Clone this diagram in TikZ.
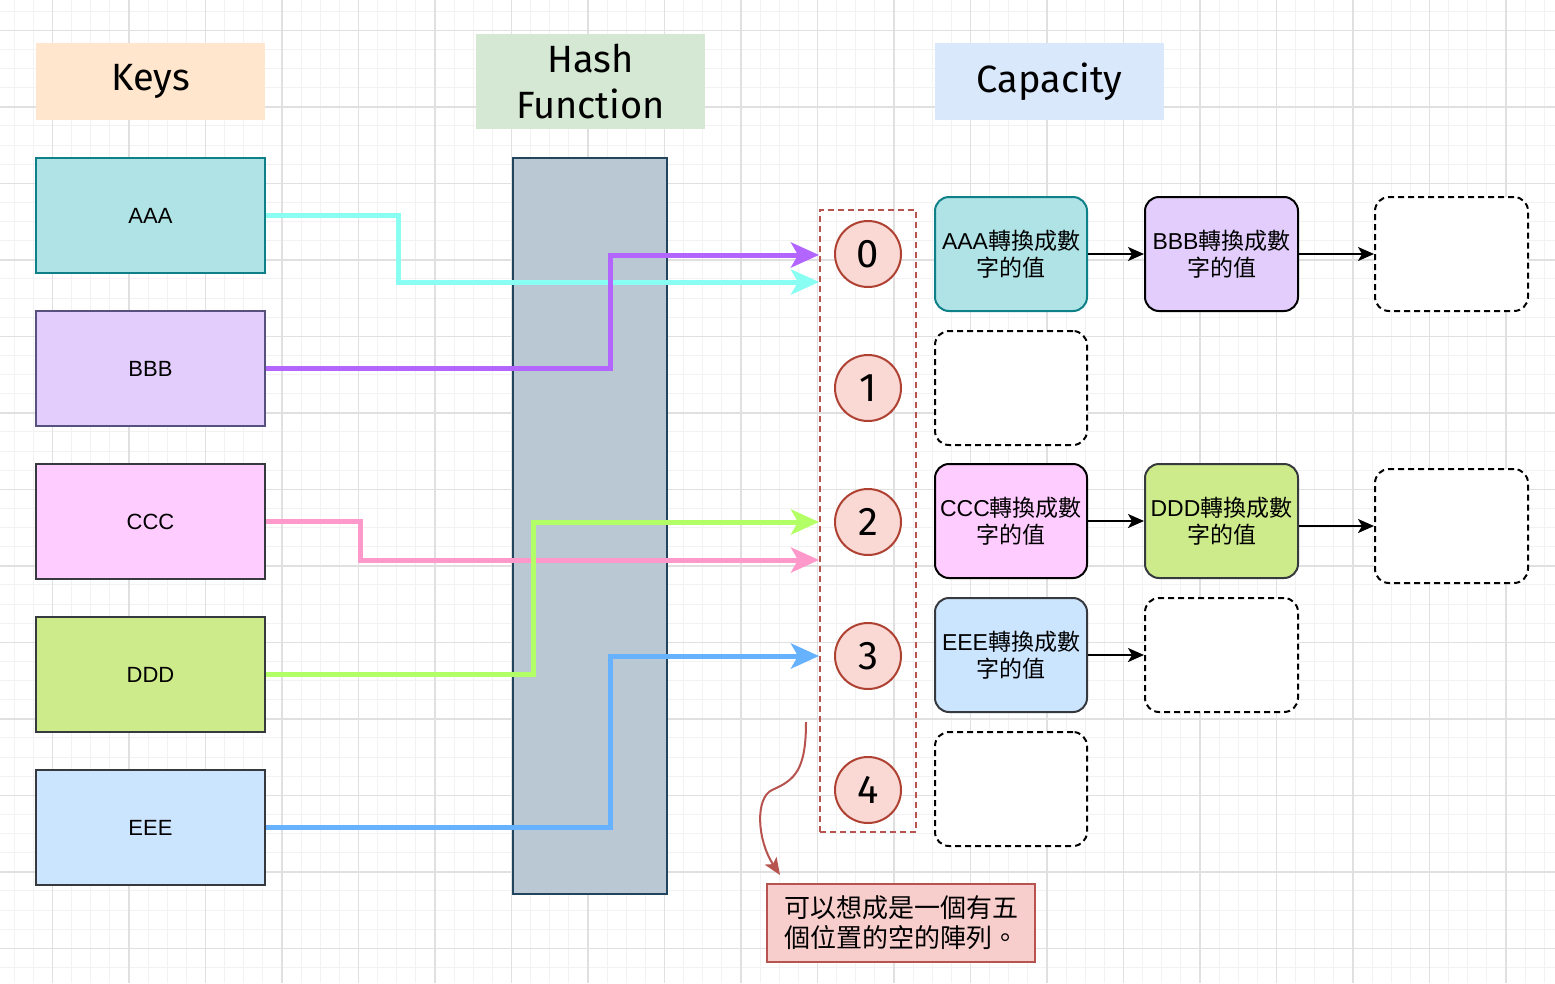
\documentclass[tikz,border=0pt]{standalone}
\usepackage{fontspec}
\setmainfont{Liberation Sans}
\newfontfamily\cjk{Noto Sans CJK TC}
\newfontfamily\hand{Fira Sans}
\usetikzlibrary{arrows.meta}
\definecolor{gridminor}{HTML}{F2F2F2}
\definecolor{gridmajor}{HTML}{E0E0E0}
\definecolor{keysfill}{HTML}{FFE6CC}
\definecolor{hashfill}{HTML}{D5E8D4}
\definecolor{capfill}{HTML}{DAE8FC}
\definecolor{afill}{HTML}{B0E3E6}
\definecolor{adraw}{HTML}{0E8088}
\definecolor{bfill}{HTML}{E3CDFC}
\definecolor{bdraw}{HTML}{56517E}
\definecolor{cfill}{HTML}{FFCCFF}
\definecolor{dfill}{HTML}{CDEB8B}
\definecolor{efill}{HTML}{CCE5FF}
\definecolor{darkdraw}{HTML}{36393D}
\definecolor{colfill}{HTML}{BAC8D3}
\definecolor{coldraw}{HTML}{23445D}
\definecolor{reddraw}{HTML}{B85450}
\definecolor{notefill}{HTML}{F8CECC}
\definecolor{slotfill}{HTML}{FAD9D5}
\definecolor{slotdraw}{HTML}{AE4132}
\definecolor{wireA}{HTML}{88FFF2}
\definecolor{wireB}{HTML}{B266FF}
\definecolor{wireC}{HTML}{FF99CC}
\definecolor{wireD}{HTML}{B3FF66}
\definecolor{wireE}{HTML}{66B2FF}
\newcommand\valtext[1]{#1{\cjk 轉換成數}\\{\cjk 字的值}}
\begin{document}
\begin{tikzpicture}[x=1pt,y=-1pt,
  title/.style={minimum width=229pt,minimum height=77pt,inner sep=0pt,align=center,font=\hand\fontsize{38}{46}\selectfont},
  keybox/.style={draw,line width=2pt,minimum width=229pt,minimum height=115pt,inner sep=0pt,font=\fontsize{22}{26}\selectfont},
  slot/.style={circle,draw=slotdraw,fill=slotfill,line width=2pt,minimum size=66pt,inner sep=0pt,font=\hand\fontsize{40}{40}\selectfont},
  valbox/.style={draw,rounded corners=14pt,line width=2pt,minimum width=152pt,minimum height=114pt,inner sep=0pt,align=center,font=\fontsize{23}{27}\selectfont},
  emptybox/.style={valbox,dash pattern=on 6pt off 4pt,fill=white},
  wire/.style={line width=5pt,-{Stealth[length=28pt,width=25pt,inset=7pt]}},
  link/.style={line width=2pt,-{Stealth[length=16pt,width=14pt,inset=4pt]}}]
\useasboundingbox (0,0) rectangle (1555,983);
\fill[white] (0,0) rectangle (1555,983);
\begin{scope}
\clip (0,0) rectangle (1555,983);
\foreach \k in {-3,...,80} \draw[gridminor,line width=1pt] ({52.5+19.125*\k},0) -- ({52.5+19.125*\k},983);
\foreach \k in {-2,...,51} \draw[gridminor,line width=1pt] (0,{30.3+19.125*\k}) -- (1555,{30.3+19.125*\k});
\foreach \k in {-1,...,20} \draw[gridmajor,line width=1.5pt] ({52.5+76.5*\k},0) -- ({52.5+76.5*\k},983);
\foreach \k in {-1,...,13} \draw[gridmajor,line width=1.5pt] (0,{30.3+76.5*\k}) -- (1555,{30.3+76.5*\k});
\end{scope}

\node[title,fill=keysfill] (keys) at (150.5,81.5) {Keys};
\node[title,fill=hashfill,minimum height=95pt] (hashtitle) at (590.5,81.5) {Hash\\Function};
\node[title,fill=capfill] (capacity) at (1049.5,81.5) {Capacity};

\node[keybox,fill=afill,draw=adraw] (keyA) at (150.5,215.5) {AAA};
\node[keybox,fill=bfill,draw=bdraw] (keyB) at (150.5,368.5) {BBB};
\node[keybox,fill=cfill,draw=darkdraw] (keyC) at (150.5,521.5) {CCC};
\node[keybox,fill=dfill,draw=darkdraw] (keyD) at (150.5,674.5) {DDD};
\node[keybox,fill=efill,draw=darkdraw] (keyE) at (150.5,827.5) {EEE};

\node[draw=coldraw,fill=colfill,line width=2pt,minimum width=154pt,minimum height=736pt,inner sep=0pt] (hash) at (590,526) {};

\node[draw=reddraw,line width=2pt,dash pattern=on 6pt off 4pt,minimum width=96pt,minimum height=622pt,inner sep=0pt] (array) at (868,521) {};
\foreach \i in {0,...,4} \node[slot] (slot\i) at (868,{254+134*\i}) {\i};

\draw[wire,wireA] (keyA.east) -| (398,282) -- (array.west |- 0,282);
\draw[wire,wireB] (keyB.east) -| (610,255) -- (array.west |- 0,255);
\draw[wire,wireC] (keyC.east) -| (360,560) -- (array.west |- 0,560);
\draw[wire,wireD] (keyD.east) -| (533,522) -- (array.west |- 0,522);
\draw[wire,wireE] (keyE.east) -| (610,656) -- (array.west |- 0,656);

\node[valbox,fill=afill,draw=adraw] (valA) at (1011,254) {\valtext{AAA}};
\node[valbox,fill=bfill,draw=black,minimum width=153pt] (valB) at (1221.5,254) {\valtext{BBB}};
\node[emptybox,minimum width=153pt] (empty0) at (1451.5,254) {};
\node[emptybox] (empty1) at (1011,388) {};
\node[valbox,fill=cfill,draw=black] (valC) at (1011,521) {\valtext{CCC}};
\node[valbox,fill=dfill,draw=darkdraw,minimum width=153pt] (valD) at (1221.5,521) {\valtext{DDD}};
\node[emptybox,minimum width=153pt] (empty2) at (1451.5,526) {};
\node[valbox,fill=efill,draw=darkdraw] (valE) at (1011,655) {\valtext{EEE}};
\node[emptybox,minimum width=153pt] (empty3) at (1221.5,655) {};
\node[emptybox] (empty4) at (1011,789) {};

\draw[link] (valA) -- (valB);
\draw[link] (valB) -- (empty0);
\draw[link] (valC) -- (valD);
\draw[link] (empty2.west -| valD.east) -- (empty2.west);
\draw[link] (valE) -- (empty3);

\node[draw=reddraw,fill=notefill,line width=2pt,minimum width=268pt,minimum height=78pt,inner sep=0pt,align=left,font=\cjk\fontsize{26}{30}\selectfont] (note) at (901,923) {可以想成是一個有五\\個位置的空的陣列。};
\coordinate (remark) at (806,722);
\draw[reddraw,line width=2pt,-{Stealth[length=17pt,width=14pt,inset=4pt]}] (remark) .. controls (806,770) and (795,780) .. (772,790) .. controls (755,798) and (757,840) .. ([shift={(14,-8)}]note.north west);
\end{tikzpicture}
\end{document}
